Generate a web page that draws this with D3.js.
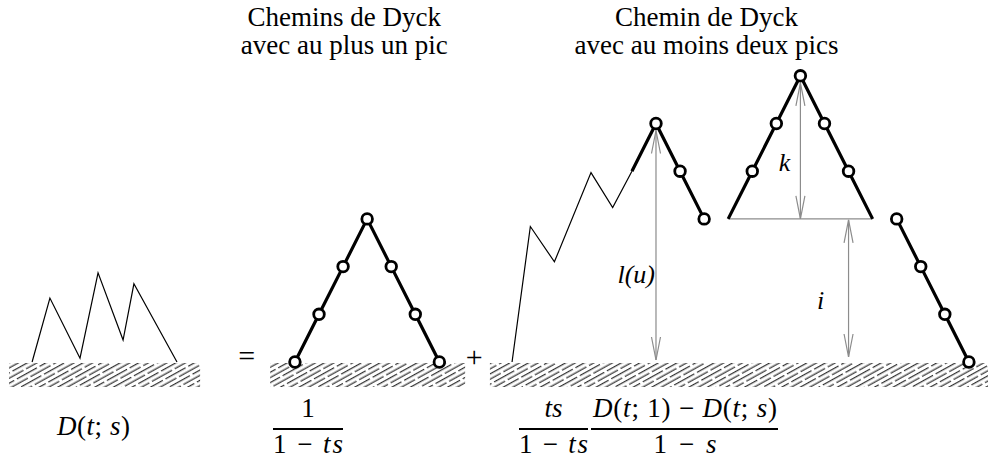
<!DOCTYPE html>
<html><head><meta charset="utf-8">
<script src="https://cdn.jsdelivr.net/npm/d3@7"></script>
<style>
body{margin:0;background:#fff}
svg{display:block}
</style>
</head><body>
<svg id="c" width="988" height="460"></svg>
<script>
// ---- data (lattice units: x = step, y = height) ----
const groundBands = [[0.12, 8.06], [10.97, 19.07], [20.1, 41]];
const pathAny = [[1.08,0],[1.82,1.34],[3.07,0.08],[3.82,1.87],[4.86,0.46],[5.31,1.64],[7.1,0]];
const pathOnePeak = [[12,0],[13,1],[14,2],[15,3],[16,2],[17,1],[18,0]];
const dotsOnePeak = [[12,0],[13,1],[14,2],[15,3],[16,2],[17,1],[18,0]];
const pathPrefix = [[21.02,0],[21.78,2.84],[22.78,2.1],[24.3,3.97],[25.2,3.24],[26,4]];
const pathFirstPeak = [[26,4],[27,5],[28,4],[29,3]];
const dotsFirstPeak = [[27,5],[28,4],[29,3]];
const pathTriangle = [[30,3],[31,4],[32,5],[33,6],[34,5],[35,4],[36,3]];
const dotsTriangle = [[31,4],[32,5],[33,6],[34,5],[35,4]];
const pathDescent = [[37,3],[38,2],[39,1],[40,0]];
const dotsDescent = [[37,3],[38,2],[39,1],[40,0]];
const baseTriangle = [[30,3],[36,3]];
const arrows = [
  {x:27, top:5, bottom:0, label:"l(u)"},
  {x:33, top:6, bottom:3, label:"k"},
  {x:35, top:3, bottom:0, label:"i"}
];
const titles = [
  {x:14.05, lines:["Chemins de Dyck","avec au plus un pic"]},
  {x:29.1, lines:["Chemin de Dyck","avec au moins deux pics"]}
];
const operators = [{x:10, s:"="}, {x:19.45, s:"+"}];

const FONT = "'Liberation Serif', 'Times New Roman', Tinos, 'DejaVu Serif', 'Noto Serif', FreeSerif, serif";

// ---- scales ----
const X = d3.scaleLinear().domain([0,40]).range([6.1, 6.1 + 40*24.07]);
const Y = d3.scaleLinear().domain([0,6]).range([362, 362 - 6*47.7]);

const svg = d3.select("#c");
const defs = svg.append("defs");
const pat = defs.append("pattern").attr("id","hatch")
  .attr("patternUnits","userSpaceOnUse").attr("width",26).attr("height",9)
  .attr("patternTransform","rotate(-29)");
pat.append("line").attr("x1",0).attr("x2",23).attr("y1",2.2).attr("y2",2.2);
pat.append("line").attr("x1",13).attr("x2",26).attr("y1",6.7).attr("y2",6.7);
pat.append("line").attr("x1",0).attr("x2",10).attr("y1",6.7).attr("y2",6.7);
pat.selectAll("line").attr("stroke","#000").attr("stroke-width",1);

// ground hatching
svg.selectAll("rect.ground").data(groundBands).join("rect")
  .attr("class","ground")
  .attr("x", d => X(d[0])).attr("width", d => X(d[1]) - X(d[0]))
  .attr("y", Y(0) + 1).attr("height", 24)
  .attr("fill","url(#hatch)");

const line = d3.line().x(d => X(d[0])).y(d => Y(d[1]));

// gray measures
const gray = "#8c8c8c";
const gTop = {27:7, 33:7, 35:1}, gBot = {27:2, 33:0, 35:5};
svg.append("path").attr("d", line(baseTriangle)).attr("stroke",gray).attr("stroke-width",1.3).attr("fill","none");
arrows.forEach(a => {
  const x = X(a.x), y1 = Y(a.top) + gTop[a.x], y2 = Y(a.bottom) - gBot[a.x];
  const g = svg.append("g").attr("stroke",gray).attr("stroke-width",1.2).attr("fill","none");
  g.append("line").attr("x1",x).attr("x2",x).attr("y1",y1).attr("y2",y2);
  g.append("path").attr("d",`M${x-4.5},${y1+23}L${x},${y1}L${x+4.5},${y1+23}`);
  g.append("path").attr("d",`M${x-4.5},${y2-23}L${x},${y2}L${x+4.5},${y2-23}`);
});

// thin paths
[pathAny, pathPrefix].forEach(p => svg.append("path").attr("d", line(p))
  .attr("fill","none").attr("stroke","#000").attr("stroke-width",1.2).attr("stroke-linejoin","miter"));

// bold paths
[pathOnePeak, pathFirstPeak, pathTriangle, pathDescent].forEach(p => svg.append("path").attr("d", line(p))
  .attr("fill","none").attr("stroke","#000").attr("stroke-width",3.2).attr("stroke-linejoin","round"));

// dots
const dots = [].concat(dotsOnePeak, dotsFirstPeak, dotsTriangle, dotsDescent);
svg.selectAll("circle.dot").data(dots).join("circle")
  .attr("class","dot").attr("cx", d => X(d[0])).attr("cy", d => Y(d[1])).attr("r", 5.3)
  .attr("fill","#fff").attr("stroke","#000").attr("stroke-width",2.8);

// measure labels
const labelPos = {27:{dx:-1, y:283, anchor:"end"}, 33:{dx:-16, y:171, anchor:"middle"}, 35:{dx:-28, y:309, anchor:"middle"}};
arrows.forEach(a => {
  const p = labelPos[a.x];
  svg.append("text").attr("x", X(a.x) + p.dx).attr("y", p.y).attr("text-anchor", p.anchor)
    .attr("font-family", FONT).attr("font-size", 26).attr("font-style","italic").text(a.label);
});

// titles
titles.forEach(t => {
  t.lines.forEach((s,i) => svg.append("text").attr("x", X(t.x)).attr("y", 26 + i*28)
    .attr("font-family", FONT).attr("text-anchor","middle").attr("font-size",27).text(s));
});

// operators
operators.forEach(o => svg.append("text").attr("x", X(o.x)).attr("y", o.s === "=" ? 366 : 367)
  .attr("font-family", FONT).attr("text-anchor","middle").attr("font-size",30).text(o.s));

// formulas
function mathText(x, y, parts, anchor, len) {
  const t = svg.append("text").attr("x", x).attr("y", y).attr("font-size", 27)
    .attr("font-family", FONT).attr("text-anchor", anchor || "middle");
  if (len) t.attr("textLength", len);
  parts.forEach(p => t.append("tspan").attr("font-style", p[1] ? "italic" : "normal").text(p[0]));
  return t;
}
function bar(x1, x2) {
  svg.append("line").attr("x1",x1).attr("x2",x2).attr("y1",429).attr("y2",429)
    .attr("stroke","#000").attr("stroke-width",2.2);
}
mathText(57, 435, [["D",1],["(",0],["t",1],["; ",0],["s",1],[")",0]], "start", 73);
// 1/(1-ts)
mathText(308, 417, [["1",0]]);
bar(273, 343);
mathText(308, 453, [["1 − ",0],["ts",1]], "middle", 70);
// ts/(1-ts)
mathText(553.5, 417, [["ts",1]]);
bar(519, 588);
mathText(553.5, 453, [["1 − ",0],["ts",1]], "middle", 69);
// (D(t;1)-D(t;s))/(1-s)
mathText(685, 417, [["D",1],["(",0],["t",1],["; 1) − ",0],["D",1],["(",0],["t",1],["; ",0],["s",1],[")",0]], "middle", 184);
bar(591, 778);
mathText(685, 453, [["1 − ",0],["s",1]], "middle", 63);
</script>
</body></html>
